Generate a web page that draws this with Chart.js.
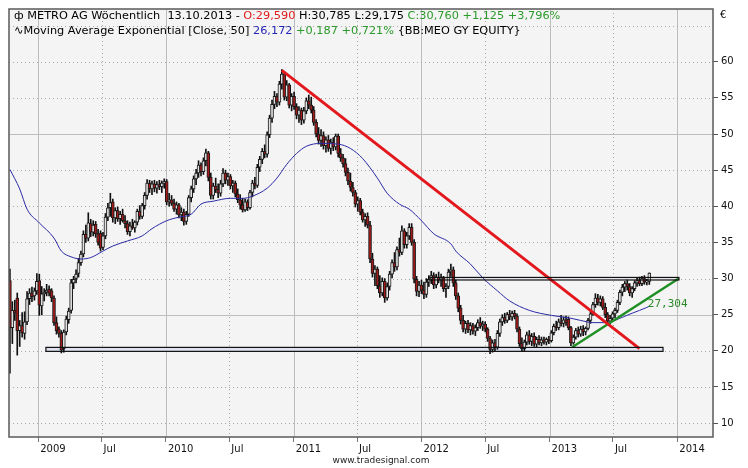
<!DOCTYPE html>
<html>
<head>
<meta charset="utf-8">
<script src="https://cdn.jsdelivr.net/npm/chart.js@4.4.0/dist/chart.umd.min.js"></script>
<style>
html, body { margin: 0; padding: 0; background: #fff; }
#wrap { width: 748px; height: 468px; position: relative; }
</style>
</head>
<body>
<div id="wrap"><canvas id="metroChart"></canvas></div>
<script>
// weekly bars, week 0 = 12.10.2008, last week = 13.10.2013
const firstWeek = Date.UTC(2008, 9, 12);

const opens = [
	29.7,23.2,25.6,27.3,22.8,23.5,22.4,24.0,27.2,28.0,
	27.6,28.3,29.7,26.2,27.9,28.1,28.5,28.3,27.3,23.9,
	23.0,22.4,20.3,22.6,24.3,25.6,29.4,30.0,30.7,32.2,
	33.4,36.1,35.6,37.6,36.4,37.5,36.2,36.3,34.3,35.9,
	38.5,39.8,40.6,38.4,39.4,38.3,38.9,38.0,37.6,36.5,
	37.3,37.0,37.8,39.3,38.6,40.1,41.5,43.2,42.4,43.1,
	42.5,43.0,42.7,43.2,43.4,40.6,40.9,40.4,39.6,40.2,
	38.8,39.2,37.9,38.9,41.2,42.4,43.8,44.6,45.7,44.8,
	46.3,47.4,44.0,41.5,42.8,42.3,41.8,43.1,44.6,43.6,
	44.1,42.8,43.2,41.7,40.9,40.2,39.5,40.6,39.8,41.9,
	43.2,42.9,45.4,46.5,47.6,47.2,49.9,52.2,54.1,55.2,
	54.4,56.9,58.3,55.1,56.8,54.0,55.2,53.8,52.6,53.3,
	51.9,53.2,54.6,54.0,53.3,51.6,50.0,49.1,49.8,48.4,
	49.2,48.0,48.9,48.2,49.7,47.3,46.7,45.9,44.7,43.5,
	42.6,41.9,40.3,40.8,39.2,38.1,38.6,37.4,32.7,30.7,
	31.3,29.0,28.0,29.6,27.3,28.9,30.6,32.2,31.6,34.0,
	33.6,36.6,34.7,35.9,37.1,35.0,29.9,28.2,29.1,28.4,
	27.8,29.5,29.9,30.4,29.1,30.2,29.8,30.1,28.6,28.9,
	30.9,31.2,29.4,27.6,25.9,24.2,23.0,23.8,22.9,23.5,
	22.7,23.2,23.9,23.4,23.7,23.0,21.7,20.2,21.1,20.5,
	22.4,24.0,24.6,24.2,25.0,24.7,25.2,24.8,23.0,21.0,
	20.3,21.2,22.2,21.3,22.0,20.9,21.6,21.1,21.5,21.2,
	21.6,21.4,22.5,23.4,23.2,24.0,23.8,24.3,24.4,23.2,
	21.1,21.9,22.8,22.3,23.0,22.6,23.1,24.2,25.1,26.4,
	27.3,26.7,27.2,26.0,25.0,24.1,24.5,25.1,25.6,26.7,
	28.1,28.8,29.3,28.9,28.0,28.6,29.4,29.7,29.3,30.0,
	29.5,29.59
];
const highs = [
	31.3,26.8,27.0,28.0,24.2,25.3,25.4,28.2,28.6,28.8,
	28.7,30.7,30.6,28.9,28.6,29.2,29.0,28.6,27.6,24.7,
	23.3,22.8,22.9,24.8,25.9,29.9,30.3,31.2,32.8,33.8,
	36.6,37.4,39.1,38.2,38.0,37.9,36.8,36.6,36.4,39.0,
	40.4,41.8,41.0,39.8,39.9,39.3,39.6,38.7,38.0,37.8,
	38.2,38.0,39.6,40.1,40.4,41.9,43.7,43.6,43.5,43.6,
	43.4,43.6,43.5,43.8,43.7,41.8,41.5,41.0,40.6,40.4,
	39.8,39.6,39.3,41.5,42.8,44.2,45.1,46.3,46.0,46.7,
	47.9,47.6,44.6,43.2,43.9,43.1,43.6,45.2,45.0,44.6,
	44.4,43.6,43.5,42.4,41.6,41.1,41.0,40.9,42.2,43.6,
	44.0,45.8,46.9,48.0,48.5,50.3,52.6,54.7,55.9,55.6,
	57.3,58.9,58.6,57.4,57.0,55.6,55.8,54.2,53.8,53.6,
	53.7,55.0,55.4,55.1,53.8,52.0,50.9,50.6,50.3,49.6,
	49.8,49.3,49.5,50.0,50.0,48.0,47.2,46.6,45.3,44.6,
	43.3,42.2,41.3,41.1,39.6,39.0,39.1,37.9,33.5,31.8,
	31.6,30.4,30.1,30.0,29.4,31.0,32.6,33.6,34.4,35.6,
	37.3,36.9,36.4,37.6,37.6,35.4,30.3,29.6,29.8,29.5,
	30.0,30.4,31.0,30.8,30.6,30.9,30.6,30.3,29.3,31.3,
	32.0,31.6,29.8,28.0,26.3,24.9,24.1,24.2,23.9,23.8,
	23.6,24.3,24.6,24.1,24.0,23.2,22.0,21.5,21.6,22.8,
	24.4,25.0,25.2,25.3,25.6,25.5,25.6,25.1,23.3,21.8,
	21.5,22.6,22.8,22.4,22.5,21.9,22.1,21.9,21.9,21.8,
	22.0,22.8,23.7,24.1,24.4,24.9,24.7,24.8,24.7,23.4,
	22.2,23.1,23.3,23.4,23.5,23.3,24.5,25.4,26.7,27.9,
	27.8,27.6,27.5,26.6,25.3,24.9,25.4,25.9,27.0,28.4,
	29.2,29.6,29.8,29.3,28.9,29.7,30.1,30.2,30.3,30.4,
	29.9,30.785
];
const lows = [
	16.9,21.0,24.2,19.4,20.6,21.9,21.6,23.6,26.4,26.8,
	27.0,27.8,24.9,25.0,26.9,27.6,27.6,26.8,23.5,22.3,
	21.9,19.7,19.8,22.2,23.8,25.2,28.6,29.4,30.2,31.8,
	33.0,35.0,35.2,35.8,35.9,35.7,34.6,33.8,34.0,35.5,
	38.0,38.6,37.8,37.6,37.9,37.5,37.8,37.0,36.1,35.9,
	36.8,36.4,37.4,38.2,38.3,39.6,41.0,41.9,41.6,42.0,
	41.8,42.3,41.9,42.5,40.2,40.0,40.1,39.3,38.9,38.4,
	38.0,37.4,37.5,38.6,40.6,41.9,43.0,44.0,44.2,44.4,
	45.6,43.5,41.0,41.0,41.9,41.2,41.4,42.7,43.1,42.9,
	42.4,41.9,41.3,40.5,39.6,39.2,39.3,39.4,39.6,41.3,
	42.4,42.6,44.8,45.9,46.7,46.8,49.5,51.6,53.5,53.8,
	54.0,56.2,54.7,54.6,53.6,53.2,53.4,52.1,51.6,51.3,
	51.5,52.8,53.5,52.9,51.2,49.6,48.6,48.3,47.9,47.5,
	47.6,47.2,47.7,47.8,46.8,46.2,45.4,44.2,43.0,42.1,
	41.4,39.9,39.3,38.8,37.8,37.2,37.0,32.2,30.2,29.0,
	28.6,27.4,27.6,26.7,27.0,28.4,30.1,31.0,31.2,33.1,
	33.3,34.2,34.2,35.4,34.6,29.4,27.6,27.5,27.9,27.2,
	27.4,28.9,29.3,28.6,28.7,29.4,28.9,28.2,27.4,28.6,
	30.3,28.9,27.1,25.4,23.7,22.6,22.4,22.5,22.2,22.3,
	22.1,22.8,23.1,22.8,22.6,21.3,19.6,19.8,20.0,20.2,
	22.0,23.5,23.8,23.9,24.3,24.2,24.4,22.6,20.6,19.9,
	20.0,20.8,20.9,20.7,20.6,20.5,20.8,20.7,20.9,20.8,
	21.0,21.2,22.2,22.8,22.9,23.4,23.3,23.5,22.9,20.7,
	20.9,21.6,21.9,22.0,22.1,22.2,22.9,23.8,24.9,26.0,
	26.3,26.2,25.7,24.6,23.8,23.7,24.2,24.6,25.3,26.4,
	27.6,28.2,28.4,27.6,27.4,28.3,28.9,29.0,29.0,29.2,
	29.1,29.175
];
const closes = [
	23.2,25.6,25.2,22.8,23.5,22.5,24.0,27.2,28.0,27.5,
	28.3,29.6,26.3,27.9,28.1,28.4,28.0,27.3,23.9,22.8,
	22.4,20.1,22.6,24.4,25.5,29.4,29.9,30.6,32.2,33.4,
	36.1,35.6,37.7,36.4,37.4,36.2,35.0,34.2,35.9,38.5,
	39.8,40.5,38.4,39.4,38.3,38.9,38.0,37.6,36.5,37.3,
	37.0,37.8,39.3,38.6,40.1,41.5,43.2,42.4,43.1,42.5,
	43.0,42.7,43.2,43.4,40.6,40.9,40.4,39.6,40.2,38.8,
	39.2,37.9,38.9,41.2,42.4,43.8,44.6,45.7,44.8,46.3,
	47.4,44.0,41.5,42.8,42.3,41.8,43.1,44.6,43.6,44.1,
	42.8,43.2,41.7,40.9,40.2,39.5,40.6,39.8,41.9,43.2,
	42.9,45.4,46.5,47.6,47.2,49.9,52.2,54.1,55.2,54.4,
	56.9,58.3,55.1,56.8,54.0,55.2,53.8,52.6,53.3,51.9,
	53.2,54.6,54.0,53.3,51.6,50.0,49.1,49.8,48.4,49.2,
	48.0,48.9,48.2,49.7,47.3,46.7,45.9,44.7,43.5,42.6,
	41.9,40.3,40.8,39.2,38.1,38.6,37.4,32.7,30.7,31.3,
	29.0,28.0,29.6,27.3,28.9,30.6,32.2,31.6,34.0,33.6,
	36.6,34.7,35.9,37.1,35.0,29.9,28.2,29.1,28.4,27.8,
	29.5,29.9,30.4,29.1,30.2,29.8,30.1,28.6,28.9,30.9,
	31.2,29.4,27.6,25.9,24.2,23.0,23.8,22.9,23.5,22.7,
	23.2,23.9,23.4,23.7,23.0,21.7,20.2,21.1,20.5,22.4,
	24.0,24.6,24.2,25.0,24.7,25.2,24.8,23.0,21.0,20.3,
	21.2,22.2,21.3,22.0,20.9,21.6,21.1,21.5,21.2,21.6,
	21.4,22.5,23.4,23.2,24.0,23.8,24.3,23.9,23.2,21.1,
	21.9,22.8,22.3,23.0,22.6,23.1,24.2,25.1,26.4,27.3,
	26.7,27.2,26.0,25.0,24.1,24.5,25.1,25.6,26.7,28.1,
	28.8,29.3,28.9,28.0,28.6,29.4,29.7,29.3,30.0,29.5,
	29.64,30.76
];

// EMA(50)
const emaWeeks  = [0,4,7,12,18,21,25,29,33,38,42,48,54,58,64,69,74,78,83,90,95,99,105,109,113,117,121,127,134,139,144,150,154,159,163,168,173,180,182,188,193,199,204,212,221,229,233,238,244,249,254,260,261];
const emaValues = [45.1,42.4,39.6,37.7,35.6,33.8,33.0,32.7,32.9,33.8,34.5,35.2,35.9,36.9,38.0,38.5,38.9,40.3,40.7,41.1,41.1,41.4,42.5,43.9,45.8,47.3,48.3,48.7,48.6,48.0,46.6,43.9,41.8,40.3,39.6,38.0,36.2,34.8,33.8,32.0,30.1,28.3,26.9,25.6,24.9,24.5,24.2,23.9,23.9,24.5,25.2,26.0,26.17];

// drawing tools
const redTrendWeeks = [111, 257];
const redTrendValues = [58.8, 20.3];
const greenTrendWeeks = [229.5, 273];
const greenTrendValues = [20.5, 30.0];
const zoneFrom = [14.7, 171];
const zoneTo = [266.6, 273.1];
const zoneLow = [19.92, 29.8];
const zoneHigh = [20.47, 30.15];

const xTickDates = ['2009-01-01','2009-07-01','2010-01-01','2010-07-01','2011-01-01','2011-07-01','2012-01-01','2012-07-01','2013-01-01','2013-07-01','2014-01-01'];
const xTickLabels = ['2009','Jul','2010','Jul','2011','Jul','2012','Jul','2013','Jul','2014'];
const yTicks = [10,15,20,25,30,35,40,45,50,55,60];
const yGrid = [10,15,20,25,30,35,40,45,50,55,60,65];

const weekMs = 7 * 24 * 3600 * 1000;
const xTickWeeks = xTickDates.map(d => (Date.parse(d + 'T00:00:00Z') - firstWeek) / weekMs);

const FAMILY = "'DejaVu Sans', Verdana, sans-serif";

let wickData = [], bodyData = [], bodyColors = [];
for (let i = 0; i < closes.length; i++) {
	wickData.push({ x: i, y: [lows[i], highs[i]] });
	bodyData.push({ x: i, y: [opens[i], closes[i]] });
	bodyColors.push(closes[i] >= opens[i] ? '#e2e2e2' : '#a31a1a');
}

function zoneRect(scales, k) {
	let x0 = scales.x.getPixelForValue(zoneFrom[k]);
	let x1 = scales.x.getPixelForValue(zoneTo[k]);
	let y0 = scales.y.getPixelForValue(zoneHigh[k]);
	let y1 = scales.y.getPixelForValue(zoneLow[k]);
	return [x0, y0, x1 - x0, y1 - y0];
}

const backdrop = {
	id: 'backdrop',
	beforeDraw(chart) {
		const { ctx, chartArea: a } = chart;
		ctx.save();
		ctx.fillStyle = '#ffffff';
		ctx.fillRect(0, 0, chart.width, chart.height);
		ctx.fillStyle = '#f4f4f4';
		ctx.fillRect(a.left, a.top, a.right - a.left, a.bottom - a.top);
		ctx.restore();
	},
	beforeDatasetsDraw(chart) {
		const { ctx, chartArea: a, scales } = chart;
		ctx.save();
		ctx.lineWidth = 1;
		xTickWeeks.forEach((w, i) => {
			let px = Math.round(scales.x.getPixelForValue(w)) + 0.5;
			let isYear = xTickLabels[i] !== 'Jul';
			ctx.strokeStyle = isYear ? '#bdbdbd' : '#a8a8a8';
			ctx.setLineDash(isYear ? [] : [1, 3]);
			ctx.beginPath(); ctx.moveTo(px, a.top); ctx.lineTo(px, a.bottom); ctx.stroke();
		});
		yGrid.forEach(v => {
			let py = Math.round(scales.y.getPixelForValue(v)) + 0.5;
			let solid = v % 25 === 0;
			ctx.strokeStyle = solid ? '#bdbdbd' : '#a8a8a8';
			ctx.setLineDash(solid ? [] : [1, 3]);
			ctx.beginPath(); ctx.moveTo(a.left, py); ctx.lineTo(a.right, py); ctx.stroke();
		});
		ctx.setLineDash([]);
		for (let k = 0; k < zoneFrom.length; k++) {
			let r = zoneRect(scales, k);
			ctx.fillStyle = k === 0 ? '#dde2ee' : '#eef0f6';
			ctx.fillRect(r[0], r[1], r[2], r[3]);
		}
		ctx.restore();
	},
	afterDatasetsDraw(chart) {
		const { ctx, scales } = chart;
		ctx.save();
		ctx.strokeStyle = '#111';
		ctx.lineWidth = 1.2;
		for (let k = 0; k < zoneFrom.length; k++) {
			let r = zoneRect(scales, k);
			ctx.strokeRect(r[0], r[1], r[2], r[3]);
		}
		ctx.restore();
	},
	afterDraw(chart) {
		const { ctx, chartArea: a, scales } = chart;
		ctx.save();
		ctx.strokeStyle = '#5a5a5a';
		ctx.lineWidth = 1.5;
		ctx.strokeRect(a.left, a.top, a.right - a.left, a.bottom - a.top);

		ctx.font = '11.3px ' + FAMILY;
		ctx.textBaseline = 'middle';
		const line = (x, y, parts) => {
			parts.forEach(p => {
				ctx.fillStyle = p[1];
				ctx.fillText(p[0], x, y);
				x += ctx.measureText(p[0]).width;
			});
		};
		line(14, 16, [['ф ', '#000'], ['METRO AG Wöchentlich  13.10.2013 - ', '#000'], ['O:29,590', '#e01c1c'],
			[' H:30,785 L:29,175 ', '#000'], ['C:30,760 +1,125 +3,796%', '#2a9a2a']]);
		line(14, 31, [['∿', '#000'], ['Moving Average Exponential [Close, 50] ', '#000'], ['26,172', '#2626b4'],
			[' +0,187 +0,721%', '#2a9a2a'], [' {BB:MEO GY EQUITY}', '#000']]);

		ctx.fillStyle = '#000';
		ctx.font = '10px ' + FAMILY;
		ctx.fillText('€', 720, 15);

		ctx.fillStyle = '#2a8a2a';
		ctx.font = "11px 'DejaVu Sans Mono', monospace";
		ctx.fillText('27,304', scales.x.getPixelForValue(260.4), scales.y.getPixelForValue(26.45));

		ctx.fillStyle = '#222';
		ctx.font = '9px ' + FAMILY;
		ctx.textAlign = 'center';
		ctx.fillText('www.tradesignal.com', 381, 461);
		ctx.restore();
	}
};

new Chart(document.getElementById('metroChart'), {
	type: 'bar',
	data: {
		datasets: [
			{
				type: 'line',
				data: redTrendWeeks.map((w, i) => ({ x: w, y: redTrendValues[i] })),
				borderColor: '#e3171c', borderWidth: 3, pointRadius: 0
			},
			{
				type: 'line',
				data: greenTrendWeeks.map((w, i) => ({ x: w, y: greenTrendValues[i] })),
				borderColor: '#1f8f24', borderWidth: 2.5, pointRadius: 0
			},
			{
				type: 'line',
				data: emaWeeks.map((w, i) => ({ x: w, y: emaValues[i] })),
				borderColor: '#2a2aa6', borderWidth: 1, pointRadius: 0,
				cubicInterpolationMode: 'monotone'
			},
			{
				data: bodyData,
				backgroundColor: bodyColors,
				borderColor: '#1a1a1a', borderWidth: 1, borderSkipped: false,
				barThickness: 3, grouped: false
			},
			{
				data: wickData,
				backgroundColor: '#111', borderWidth: 0,
				barThickness: 1, grouped: false
			}
		]
	},
	options: {
		responsive: true,
		maintainAspectRatio: false,
		animation: false,
		layout: { padding: { left: 9, top: 6, right: 0, bottom: 0 } },
		plugins: { legend: { display: false }, tooltip: { enabled: false } },
		scales: {
			x: {
				type: 'linear',
				min: -0.37,
				max: 287,
				offset: false,
				afterBuildTicks: s => { s.ticks = xTickWeeks.map(v => ({ value: v })); },
				afterFit: s => { s.height = 31; },
				grid: { offset: false, drawOnChartArea: false, drawTicks: true, tickLength: 5, tickColor: '#777' },
				border: { display: false },
				ticks: {
					autoSkip: false, maxRotation: 0, align: 'start', labelOffset: 2, padding: 1,
					color: '#111', font: { family: FAMILY, size: 10 },
					callback: (v, i) => xTickLabels[i]
				}
			},
			y: {
				position: 'right',
				min: 8.07,
				max: 67.3,
				afterBuildTicks: s => { s.ticks = yTicks.map(v => ({ value: v })); },
				afterFit: s => { s.width = 35; },
				grid: { drawOnChartArea: false, drawTicks: true, tickLength: 5, tickColor: '#555' },
				border: { display: false },
				ticks: {
					padding: 3, color: '#111',
					font: { family: FAMILY, size: 10 },
					callback: v => v
				}
			}
		}
	},
	plugins: [backdrop]
});
</script>
</body>
</html>
